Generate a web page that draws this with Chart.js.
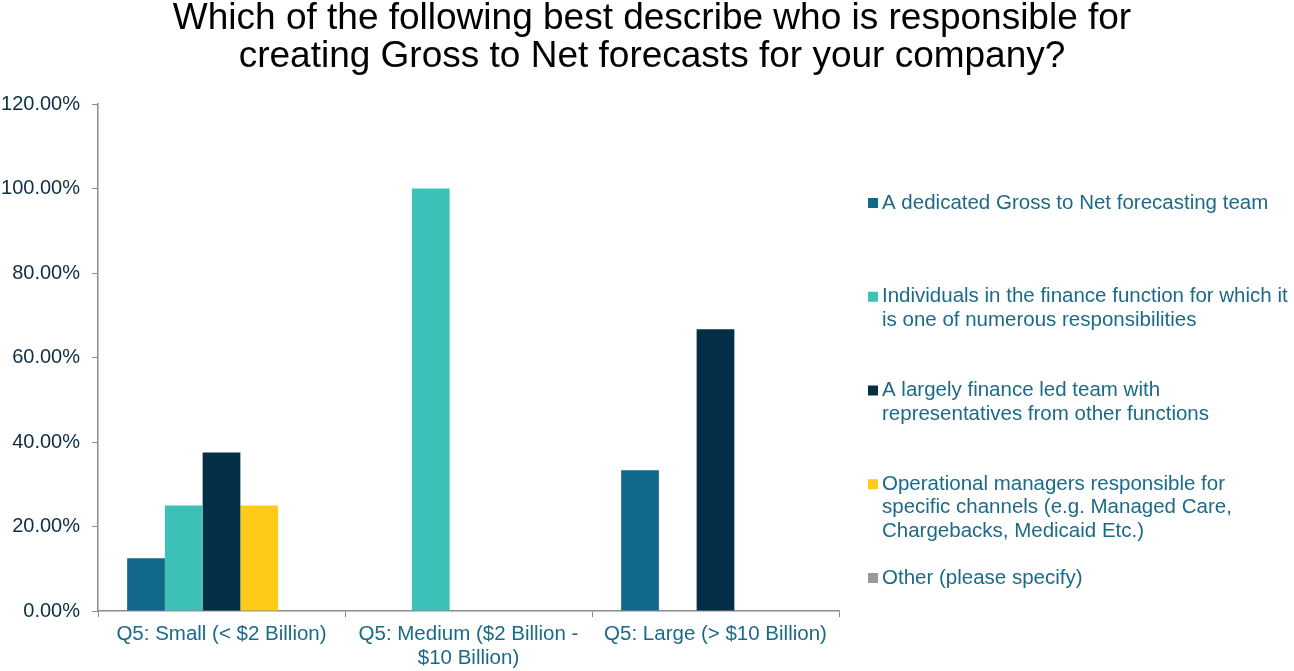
<!DOCTYPE html>
<html>
<head>
<meta charset="utf-8">
<script src="https://cdn.jsdelivr.net/npm/chart.js@4/dist/chart.umd.min.js"></script>
<style>
  html, body { margin: 0; padding: 0; background: #fff; }
  #wrap { width: 1294px; height: 671px; }
</style>
</head>
<body>
<div id="wrap"><canvas id="gtn"></canvas></div>
<script>
const titleLines = [
  'Which of the following best describe who is responsible for',
  'creating Gross to Net forecasts for your company?'
];

const categories = [
  'Q5: Small (< $2 Billion)',
  ['Q5: Medium ($2 Billion -', '$10 Billion)'],
  'Q5: Large (> $10 Billion)'
];

const seriesNames = [
  ['A dedicated Gross to Net forecasting team'],
  ['Individuals in the finance function for which it', 'is one of numerous responsibilities'],
  ['A largely finance led team with', 'representatives from other functions'],
  ['Operational managers responsible for', 'specific channels (e.g. Managed Care,', 'Chargebacks, Medicaid Etc.)'],
  ['Other (please specify)']
];

const dedicatedTeam = [12.5, 0, 33.33];
const financeIndividuals = [25, 100, 0];
const financeLedTeam = [37.5, 0, 66.67];
const operationalManagers = [25, 0, 0];
const other = [0, 0, 0];

const yTicks = [0, 20, 40, 60, 80, 100, 120];

const seriesColors = ['#12688A', '#3DC0B7', '#032E45', '#FECB18', '#98999B'];
const textBlue = '#1B6A87';
const axisGray = '#8C8C8C';
const fontFamily = '"Liberation Sans", Arial, sans-serif';

const seriesValues = [dedicatedTeam, financeIndividuals, financeLedTeam, operationalManagers, other];

// title centred on the whole canvas, not just the plot
const pageTitle = {
  id: 'pageTitle',
  afterDraw(chart) {
    const ctx = chart.ctx;
    ctx.save();
    ctx.font = '37px ' + fontFamily;
    ctx.fillStyle = '#000';
    ctx.textAlign = 'center';
    ctx.textBaseline = 'alphabetic';
    titleLines.forEach((t, i) => ctx.fillText(t, 652, 29 + i * 38));
    ctx.restore();
  }
};

// legend drawn on the right with multi-line labels
const sideLegend = {
  id: 'sideLegend',
  afterDraw(chart) {
    const ctx = chart.ctx;
    ctx.save();
    ctx.font = '20.5px ' + fontFamily;
    ctx.textBaseline = 'middle';
    ctx.textAlign = 'left';
    chart.data.datasets.forEach((ds, i) => {
      const y0 = 203 + i * 93.75;
      ctx.fillStyle = ds.backgroundColor;
      ctx.fillRect(868, y0 - 5, 10, 10);
      ctx.fillStyle = textBlue;
      seriesNames[i].forEach((line, j) => {
        ctx.fillText(line, 882, y0 + j * 23.5);
      });
    });
    ctx.restore();
  }
};

const datasets = seriesValues.map((vals, i) => ({
  label: seriesNames[i].join(' '),
  data: vals,
  backgroundColor: seriesColors[i],
  borderWidth: 0
}));

new Chart(document.getElementById('gtn'), {
  type: 'bar',
  data: { labels: categories, datasets: datasets },
  plugins: [pageTitle, sideLegend],
  options: {
    responsive: true,
    maintainAspectRatio: false,
    animation: false,
    layout: { padding: { left: 0, right: 455, top: 104, bottom: 0 } },
    datasets: {
      bar: { categoryPercentage: 0.764, barPercentage: 1 }
    },
    plugins: {
      legend: { display: false },
      tooltip: { enabled: false },
      title: { display: false }
    },
    scales: {
      x: {
        grid: { drawOnChartArea: false, color: axisGray, tickLength: 6, offset: true },
        border: { color: axisGray, width: 1.5 },
        ticks: {
          color: textBlue,
          font: { family: fontFamily, size: 20.5, lineHeight: 1.17 },
          padding: 5,
          maxRotation: 0,
          autoSkip: false
        },
        afterFit(scale) { scale.height = 60; }
      },
      y: {
        min: 0,
        max: 120,
        afterBuildTicks(scale) { scale.ticks = yTicks.map(v => ({ value: v })); },
        grid: { drawOnChartArea: false, color: axisGray, tickLength: 6 },
        border: { color: axisGray, width: 1.5 },
        ticks: {
          color: '#0D2D44',
          font: { family: fontFamily, size: 20 },
          padding: 12,
          callback: v => v.toFixed(2) + '%'
        },
        afterFit(scale) { scale.width = 98; }
      }
    }
  }
});
</script>
</body>
</html>
